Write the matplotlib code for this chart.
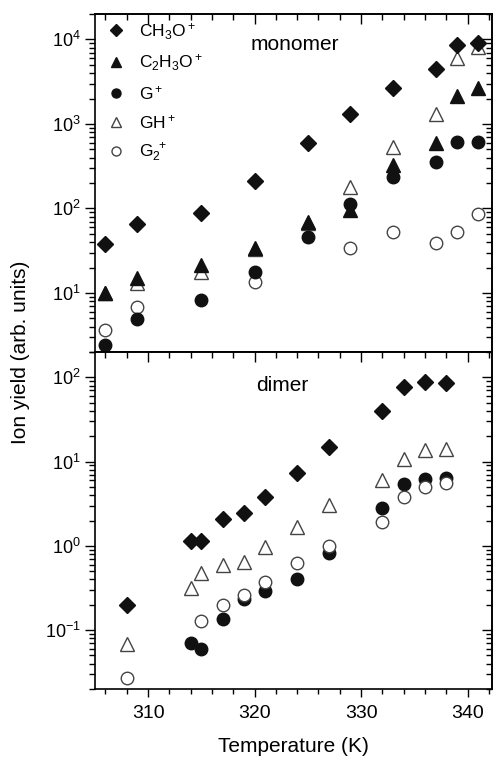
import numpy as np
import matplotlib
matplotlib.use('Agg')
import matplotlib.pyplot as plt
from matplotlib.ticker import LogLocator, MultipleLocator, NullFormatter

plt.rcParams['font.family'] = ['Liberation Sans', 'DejaVu Sans']
plt.rcParams['mathtext.fontset'] = 'custom'
plt.rcParams['mathtext.rm'] = 'Liberation Sans'
plt.rcParams['mathtext.it'] = 'Liberation Sans:italic'
plt.rcParams['mathtext.bf'] = 'Liberation Sans:bold'

# --- monomer data ---
mono_T = [306, 309, 315, 320, 325, 329, 333, 337, 339, 341]
mono_ch3o = [38, 65, 89, 212, 597, 1300, 2690, 4430, 8700, 9100]
mono_c2h3o = [10, 14.9, 21.5, 34, 70, 96, 326, 597, 2120, 2690]
mono_g = [2.44, 4.9, 8.3, 17.6, 46, 113, 237, 350, 614, 614]
mono_gh = [10, 13, 17.6, 33, 68, 180, 535, 1300, 6000, 8100]
mono_g2_T = [306, 309, 320, 329, 333, 337, 339, 341]
mono_g2 = [3.6, 6.9, 13.3, 33.8, 52, 39, 52, 85]

# --- dimer data ---
dim_T = [308, 314, 315, 317, 319, 321, 324, 327, 332, 334, 336, 338]
dim_ch3o = [0.20, 1.13, 1.13, 2.07, 2.44, 3.77, 7.4, 14.9, 39.5, 76, 87, 85]
dim_gh = [0.068, 0.318, 0.478, 0.598, 0.644, 0.98, 1.67, 3.06, 6.0, 10.6, 13.6, 14.3]
dim_g_T = [314, 315, 317, 319, 321, 324, 327, 332, 334, 336, 338]
dim_g = [0.071, 0.059, 0.134, 0.237, 0.29, 0.41, 0.82, 2.79, 5.4, 6.2, 6.4]
dim_g2_T = [308, 315, 317, 319, 321, 324, 327, 332, 334, 336, 338]
dim_g2 = [0.027, 0.128, 0.20, 0.26, 0.37, 0.63, 1.0, 1.94, 3.77, 4.94, 5.5]

labels = ['CH$_3$O$^+$', 'C$_2$H$_3$O$^+$', 'G$^+$', 'GH$^+$', 'G$_2^{\\ +}$']

fig = plt.figure(figsize=(4.94, 7.57), dpi=100)
ax1 = fig.add_axes([0.192, 0.535, 0.804, 0.4465])
ax2 = fig.add_axes([0.192, 0.0898, 0.804, 0.4452])

dark = '#111111'
edge = '#444444'
kw_d = dict(ls='none', marker='D', ms=8.5, color=dark, mec=dark)
kw_t = dict(ls='none', marker='^', ms=10, color=dark, mec=dark)
kw_c = dict(ls='none', marker='o', ms=9, color=dark, mec=dark)
kw_to = dict(ls='none', marker='^', ms=10, mfc='white', mec=edge, mew=1.0)
kw_co = dict(ls='none', marker='o', ms=9, mfc='white', mec=edge, mew=1.0)

# monomer panel
ax1.plot(mono_T, mono_gh, label=labels[3], zorder=3, **kw_to)
ax1.plot(mono_g2_T, mono_g2, label=labels[4], zorder=3, **kw_co)
ax1.plot(mono_T, mono_c2h3o, label=labels[1], zorder=4, **kw_t)
ax1.plot(mono_T, mono_g, label=labels[2], zorder=5, **kw_c)
ax1.plot(mono_T, mono_ch3o, label=labels[0], zorder=6, **kw_d)

# dimer panel
ax2.plot(dim_T, dim_gh, zorder=3, **kw_to)
ax2.plot(dim_g_T, dim_g, zorder=4, **kw_c)
ax2.plot(dim_g2_T, dim_g2, zorder=5, **kw_co)
ax2.plot(dim_T, dim_ch3o, zorder=6, **kw_d)

ylims = [(2, 2e4), (0.02, 200)]
for ax, yl in zip((ax1, ax2), ylims):
    ax.set_yscale('log')
    ax.set_xlim(305, 342.3)
    ax.set_ylim(*yl)
    ax.xaxis.set_major_locator(MultipleLocator(10))
    ax.xaxis.set_minor_locator(MultipleLocator(2))
    ax.yaxis.set_major_locator(LogLocator(base=10, numticks=10))
    ax.yaxis.set_minor_locator(LogLocator(base=10, subs=np.arange(2, 10), numticks=10))
    ax.yaxis.set_minor_formatter(NullFormatter())
    ax.tick_params(which='both', direction='out', width=1.0)
    ax.tick_params(axis='x', which='major', length=6, labelsize=14, pad=5.5)
    ax.tick_params(axis='x', which='minor', length=3.5)
    ax.tick_params(axis='y', which='major', length=7, labelsize=13, pad=3)
    ax.tick_params(axis='y', which='minor', length=4.5)
    for sp in ax.spines.values():
        sp.set_linewidth(1.2)

    # inward ticks on top and right
    top = ax.secondary_xaxis('top')
    top.xaxis.set_major_locator(MultipleLocator(10))
    top.xaxis.set_minor_locator(MultipleLocator(2))
    top.tick_params(which='both', direction='in', labeltop=False, width=1.0)
    top.tick_params(which='major', length=7)
    top.tick_params(which='minor', length=4)
    top.spines['top'].set_linewidth(1.2)
    right = ax.secondary_yaxis('right')
    right.set_yscale('log')
    right.yaxis.set_major_locator(LogLocator(base=10, numticks=10))
    right.yaxis.set_minor_locator(LogLocator(base=10, subs=np.arange(2, 10), numticks=10))
    right.tick_params(which='both', direction='in', labelright=False, width=1.0)
    right.tick_params(which='major', length=7)
    right.tick_params(which='minor', length=4)
    right.spines['right'].set_linewidth(1.2)

ax1.tick_params(labelbottom=False)

ax1.text(323.8, 10**3.94, 'monomer', ha='center', va='center', fontsize=15)
ax2.text(322.6, 10**1.9, 'dimer', ha='center', va='center', fontsize=15)

h, l = ax1.get_legend_handles_labels()
order = [4, 2, 3, 0, 1]
ax1.legend([h[i] for i in order], [l[i] for i in order], loc='upper left',
           bbox_to_anchor=(-0.012, 1.025), frameon=False, fontsize=12.5,
           markerscale=0.72, handlelength=1.2, handletextpad=0.7, labelspacing=0.62)

ax2.set_xlabel('Temperature (K)', fontsize=15, labelpad=11)
fig.text(0.042, 0.535, 'Ion yield (arb. units)', rotation=90, ha='center', va='center', fontsize=15)

fig.savefig('out.png', dpi=100)
